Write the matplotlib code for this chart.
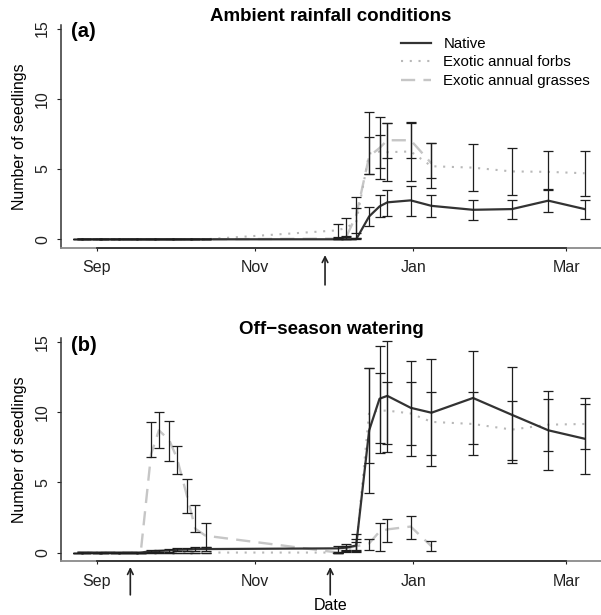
import matplotlib
matplotlib.use('Agg')
import matplotlib.pyplot as plt
import matplotlib.dates as mdates
import matplotlib.transforms as mtransforms
from matplotlib.lines import Line2D
import numpy as np
import pandas as pd

plt.rcParams['font.family'] = ['Liberation Sans', 'DejaVu Sans']

# sampling dates
early_dates = ['2009-08-25', '2009-08-28', '2009-09-01', '2009-09-04', '2009-09-08',
               '2009-09-11', '2009-09-15', '2009-09-18', '2009-09-22', '2009-09-25',
               '2009-09-29', '2009-10-02', '2009-10-06', '2009-10-09', '2009-10-13']
late_dates = ['2009-12-03', '2009-12-06', '2009-12-10', '2009-12-15', '2009-12-19',
              '2009-12-22', '2009-12-31', '2010-01-08', '2010-01-24', '2010-02-08',
              '2010-02-22', '2010-03-08']
grass_dates = late_dates[:8]  # grasses only counted until early January

tick_dates = ['2009-09-01', '2009-11-01', '2010-01-01', '2010-03-01']
tick_labels = ['Sep', 'Nov', 'Jan', 'Mar']

# (a) ambient rainfall -- mean, lower, upper
native_a_early = [0] * 15
forbs_a_early = [0] * 15
grass_a_early = [0] * 15
native_a = [0.0, 0.0, 0.0, 1.63, 2.34, 2.63, 2.77, 2.38, 2.1, 2.15, 2.75, 2.15]
native_a_lo = [0.0, 0.0, 0.0, 0.97, 1.56, 1.68, 1.68, 1.59, 1.4, 1.45, 1.92, 1.47]
native_a_hi = [0.0, 0.0, 0.1, 2.3, 3.12, 3.53, 3.76, 3.17, 2.77, 2.82, 3.58, 2.82]
forbs_a = [0.64, 0.83, 1.2, 6.1, 6.25, 6.2, 6.25, 5.2, 5.1, 4.83, 4.8, 4.7]
forbs_a_lo = [0.17, 0.14, 0.1, 4.66, 5.06, 4.12, 4.12, 3.64, 3.41, 3.17, 3.48, 3.1]
forbs_a_hi = [1.11, 1.52, 2.23, 9.09, 7.43, 8.3, 8.3, 6.84, 6.77, 6.49, 6.25, 6.25]
grass_a = [0.05, 0.1, 1.7, 5.9, 6.5, 7.05, 7.05, 5.4]
grass_a_lo = [0.0, 0.0, 0.45, 4.66, 4.3, 5.78, 5.77, 4.35]
grass_a_hi = [0.1, 0.2, 2.98, 7.26, 8.73, 8.3, 8.38, 6.84]

# (b) off-season watering
native_b_early = [0, 0, 0, 0, 0, 0, 0, 0, 0.1, 0.12, 0.15, 0.2, 0.22, 0.25, 0.25]
native_b_early_lo = [0, 0, 0, 0, 0, 0, 0, 0, 0.02, 0.03, 0.05, 0.1, 0.1, 0.12, 0.12]
native_b_early_hi = [0, 0, 0, 0, 0, 0, 0, 0, 0.18, 0.2, 0.25, 0.32, 0.35, 0.38, 0.38]
forbs_b_early = [0] * 15
grass_b_early = [0, 0, 0, 0, 0, 0, 0, 0, 7.0, 8.7, 8.0, 6.7, 3.9, 1.7, 1.2]
grass_b_early_lo = [0, 0, 0, 0, 0, 0, 0, 0, 6.77, 7.45, 6.53, 5.58, 2.85, 1.47, 0.4]
grass_b_early_hi = [0, 0, 0, 0, 0, 0, 0, 0, 9.3, 9.97, 9.38, 7.6, 5.22, 3.37, 2.07]
native_b = [0.3, 0.35, 0.5, 8.7, 10.95, 11.15, 10.3, 9.95, 11.0, 9.8, 8.7, 8.1]
native_b_lo = [0.05, 0.1, 0.1, 4.27, 7.1, 7.17, 6.88, 6.15, 7.69, 6.38, 5.84, 5.58]
native_b_hi = [0.5, 0.6, 0.95, 13.1, 14.7, 15.07, 13.65, 13.75, 14.36, 13.2, 11.5, 10.6]
forbs_b = [0.0, 0.2, 0.4, 10.0, 10.1, 10.1, 9.9, 9.3, 9.15, 8.75, 9.1, 9.15]
forbs_b_lo = [0.0, 0.05, 0.05, 6.4, 7.8, 7.69, 7.64, 6.93, 6.95, 6.62, 7.2, 7.36]
forbs_b_hi = [0.0, 0.45, 1.3, 13.1, 12.75, 12.15, 12.15, 11.4, 11.4, 10.8, 10.9, 11.0]
grass_b = [0.0, 0.3, 0.45, 0.65, 1.5, 1.65, 1.85, 0.45]
grass_b_lo = [0.0, 0.15, 0.15, 0.2, 0.11, 0.76, 1.0, 0.11]
grass_b_hi = [0.0, 0.45, 0.75, 1.0, 2.07, 2.37, 2.63, 0.85]

# watering / first rain events
arrows_a = ['2009-11-28']
arrows_b = ['2009-09-14', '2009-11-30']

C_NATIVE = '#333333'
C_FORBS = '#b8b8b8'
C_GRASS = '#c6c6c6'
C_BAR = '#1e1e1e'
LS_FORBS = (0, (1, 3.2))
LS_GRASS = (0, (6, 3.5))


def to_num(lst):
    return mdates.date2num(pd.to_datetime(lst).to_pydatetime())


def series(early, late, dates_late):
    x = np.concatenate([to_num(early_dates), to_num(dates_late)])
    return x, np.array(list(early) + list(late), dtype=float)


def draw_panel(ax, data, title, tag, arrows, arrow_y):
    # lines first, error bars on top
    for key, color, ls, lw in [('grass', C_GRASS, LS_GRASS, 1.7),
                               ('forbs', C_FORBS, LS_FORBS, 1.5),
                               ('native', C_NATIVE, '-', 1.6)]:
        x, y, lo, hi = data[key]
        ax.plot(x, y, color=color, ls=ls, lw=lw, zorder=2)
    for key in ['grass', 'forbs', 'native']:
        x, y, lo, hi = data[key]
        yerr = np.vstack([y - lo, hi - y])
        ax.errorbar(x, y, yerr=yerr, fmt='none', ecolor=C_BAR, elinewidth=0.9,
                    capsize=3.6, capthick=0.9, zorder=3)

    start = to_num(['2009-09-01'])[0]
    ax.set_xlim(start - 13.7, start + 194.3)
    ax.set_ylim(-0.6, 15.25)
    ax.set_xticks(to_num(tick_dates))
    ax.set_xticklabels(tick_labels)
    ax.set_yticks([0, 5, 10, 15])
    ax.set_yticklabels(['0', '5', '10', '15'], rotation=90, va='center')
    ax.tick_params(axis='x', length=2, width=0.8, pad=7, labelsize=11.5, colors='#222222')
    ax.tick_params(axis='y', length=3, width=0.8, pad=5, labelsize=11.5, colors='#222222')
    ax.spines['top'].set_visible(False)
    ax.spines['right'].set_visible(False)
    ax.spines['left'].set_color('#333333')
    ax.spines['bottom'].set_color('#8a8a8a')
    ax.spines['left'].set_linewidth(1.1)
    ax.spines['bottom'].set_linewidth(1.3)
    # darker axis line between first and last tick, as in base R
    trans = mtransforms.blended_transform_factory(ax.transData, ax.transAxes)
    tx = to_num(tick_dates)
    ax.plot([tx[0], tx[-1]], [0, 0], color='#333333', lw=1.3, transform=trans,
            clip_on=False, zorder=4)
    ax.set_ylabel('Number of seedlings', fontsize=11.5, labelpad=6)
    ax.set_title(title, fontsize=13.5, fontweight='bold', pad=3)
    ax.text(0.018, 1.012, tag, transform=ax.transAxes, fontsize=14.5,
            fontweight='bold', va='top', ha='left')
    for d in to_num(arrows):
        ax.annotate('', xy=(d, arrow_y[0]), xycoords=trans,
                    xytext=(d, arrow_y[1]), textcoords=trans,
                    arrowprops=dict(arrowstyle='->', lw=1.2, color='#222222',
                                    mutation_scale=10, shrinkA=0, shrinkB=0),
                    annotation_clip=False)


fig = plt.figure(figsize=(6.01, 6.15), dpi=100)
ax1 = fig.add_axes([0.1015, 0.5972, 0.8985, 0.3621])
ax2 = fig.add_axes([0.1015, 0.0878, 0.8985, 0.3622])

data_a = {
    'native': (*series(native_a_early, native_a, late_dates),
               np.array(native_a_early + native_a_lo, float),
               np.array(native_a_early + native_a_hi, float)),
    'forbs': (*series(forbs_a_early, forbs_a, late_dates),
              np.array(forbs_a_early + forbs_a_lo, float),
              np.array(forbs_a_early + forbs_a_hi, float)),
    'grass': (*series(grass_a_early, grass_a, grass_dates),
              np.array(grass_a_early + grass_a_lo, float),
              np.array(grass_a_early + grass_a_hi, float)),
}
data_b = {
    'native': (*series(native_b_early, native_b, late_dates),
               np.array(native_b_early_lo + native_b_lo, float),
               np.array(native_b_early_hi + native_b_hi, float)),
    'forbs': (*series(forbs_b_early, forbs_b, late_dates),
              np.array(forbs_b_early + forbs_b_lo, float),
              np.array(forbs_b_early + forbs_b_hi, float)),
    'grass': (*series(grass_b_early, grass_b, grass_dates),
              np.array(grass_b_early_lo + grass_b_lo, float),
              np.array(grass_b_early_hi + grass_b_hi, float)),
}

draw_panel(ax1, data_a, 'Ambient rainfall conditions', '(a)', arrows_a, (-0.033, -0.167))
draw_panel(ax2, data_b, 'Off\u2212season watering', '(b)', arrows_b, (-0.027, -0.152))
ax2.set_xlabel('Date', fontsize=11.5, labelpad=7)

handles = [Line2D([], [], color=C_NATIVE, lw=1.6),
           Line2D([], [], color=C_FORBS, lw=1.5, ls=LS_FORBS),
           Line2D([], [], color=C_GRASS, lw=1.7, ls=LS_GRASS)]
ax1.legend(handles, ['Native', 'Exotic annual forbs', 'Exotic annual grasses'],
           loc='upper left', bbox_to_anchor=(0.629, 0.947), frameon=False,
           fontsize=10.8, handlelength=2.05, handletextpad=0.8, labelspacing=0.3,
           borderpad=0, borderaxespad=0)

fig.savefig('out.png', dpi=100)
